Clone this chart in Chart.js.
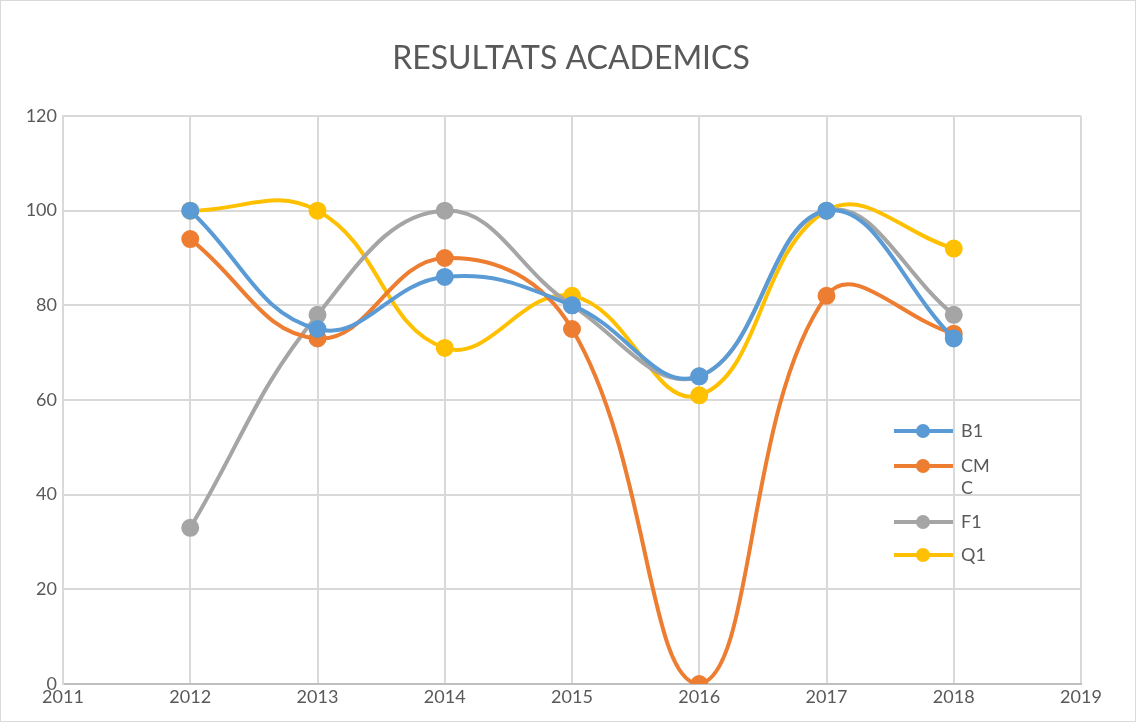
<!DOCTYPE html>
<html lang="ca">
<head>
    <meta charset="UTF-8">
    <title>Resultats academics</title>
    <script src="https://cdn.jsdelivr.net/npm/chart.js"></script>
    <style>
        html, body { margin: 0; padding: 0; background: #fff; }
        #wrap { width: 1136px; height: 722px; position: relative; box-sizing: border-box; border: 1px solid #d9d9d9; }
    </style>
</head>
<body>
<div id="wrap"><canvas id="resultsChart"></canvas></div>

<script>
    const years = [2012, 2013, 2014, 2015, 2016, 2017, 2018];
    const seriesNames = ["B1", "CMC", "F1", "Q1"];
    const b1 = [100, 75, 86, 80, 65, 100, 73];
    const cmc = [94, 73, 90, 75, 0, 82, 74];
    const f1 = [33, 78, 100, 80, 65, 100, 78];
    const q1 = [100, 100, 71, 82, 61, 100, 92];
    const colors = ["#5B9BD5", "#ED7D31", "#A5A5A5", "#FFC000"];

    const allValues = [b1, cmc, f1, q1];

    const datasets = seriesNames.map((name, i) => ({
        label: name,
        data: years.map((yr, j) => ({ x: yr, y: allValues[i][j] })),
        borderColor: colors[i],
        backgroundColor: colors[i],
        pointBackgroundColor: colors[i],
        pointBorderColor: colors[i],
        borderWidth: 4,
        pointRadius: 7,
        pointHoverRadius: 7,
        tension: 0.42,
        fill: false
    }));

    // title + legend drawn by hand so they sit where the original has them
    const extras = {
        id: "extras",
        afterDraw(chart) {
            const ctx = chart.ctx;
            ctx.save();
            ctx.fillStyle = "#595959";
            ctx.font = "32px Lato";
            ctx.textAlign = "center";
            ctx.textBaseline = "middle";
            ctx.fillText("RESULTATS ACADEMICS", 570, 58);

            const rows = [430, 465, 521, 554];
            ctx.font = "18px Lato";
            ctx.textAlign = "left";
            seriesNames.forEach((name, i) => {
                const y = rows[i];
                ctx.strokeStyle = colors[i];
                ctx.lineWidth = 4;
                ctx.beginPath();
                ctx.moveTo(893, y);
                ctx.lineTo(952, y);
                ctx.stroke();
                ctx.fillStyle = colors[i];
                ctx.beginPath();
                ctx.arc(922, y, 7, 0, Math.PI * 2);
                ctx.fill();
                ctx.fillStyle = "#595959";
                if (name === "CMC") {
                    ctx.fillText("CM", 960, y);
                    ctx.fillText("C", 960, y + 22);
                } else {
                    ctx.fillText(name, 960, y);
                }
            });
            ctx.restore();
        }
    };

    new Chart(document.getElementById("resultsChart"), {
        type: "line",
        data: { datasets: datasets },
        plugins: [extras],
        options: {
            responsive: true,
            maintainAspectRatio: false,
            animation: false,
            layout: { padding: { left: 0, right: 54, top: 115, bottom: 0 } },
            plugins: {
                legend: { display: false },
                tooltip: { enabled: false },
                title: { display: false }
            },
            scales: {
                x: {
                    type: "linear",
                    min: 2011,
                    max: 2019,
                    ticks: {
                        stepSize: 1,
                        color: "#595959",
                        font: { family: "Lato", size: 18 },
                        padding: 2,
                        callback: v => String(v)
                    },
                    grid: { color: "#d9d9d9", lineWidth: 2, drawTicks: false },
                    border: { color: "#bfbfbf", width: 2 },
                    afterFit: s => { s.height = 37; }
                },
                y: {
                    min: 0,
                    max: 120,
                    ticks: {
                        stepSize: 20,
                        color: "#595959",
                        font: { family: "Lato", size: 18 },
                        padding: 6
                    },
                    grid: { color: "#d9d9d9", lineWidth: 2, drawTicks: false },
                    border: { color: "#d9d9d9", width: 2 },
                    afterFit: s => { s.width = 62; }
                }
            }
        }
    });
</script>
</body>
</html>
